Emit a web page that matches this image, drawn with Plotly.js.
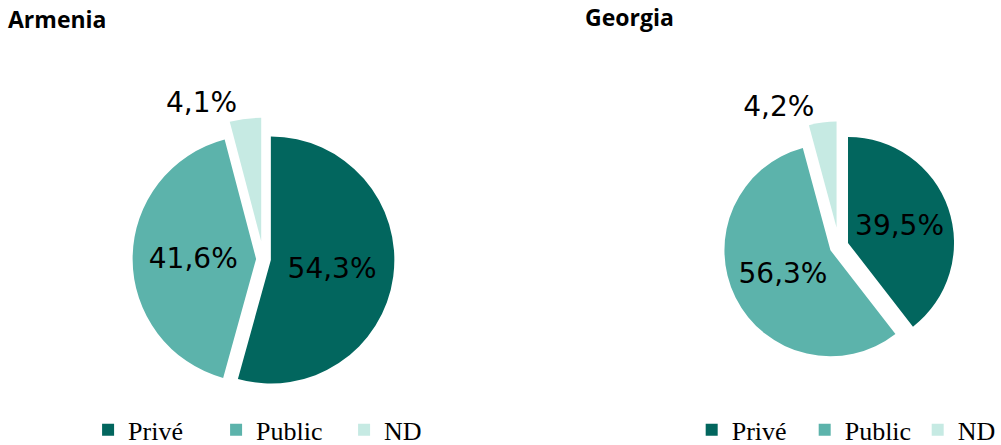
<!DOCTYPE html>
<html>
<head>
<meta charset="utf-8">
<script src="https://cdn.plot.ly/plotly-3.0.1.min.js"></script>
<style>html,body{margin:0;padding:0;background:#fff;}#chart{width:1001px;height:445px;}</style>
</head>
<body>
<div id="chart"></div>
<script>
const categories = ["Privé", "Public", "ND"];
const armeniaValues = [54.3, 41.6, 4.1];
const georgiaValues = [39.5, 56.3, 4.2];
const countryTitles = ["Armenia", "Georgia"];
const colors = ["#02665E", "#5CB3AB", "#C6EAE3"];

const labelFont = {family: "DejaVu Sans, Verdana, sans-serif", size: 28, color: "#000"};

function pieTrace(values, domain, pull, legendId, group) {
  return {
    type: "pie",
    labels: categories,
    values: values,
    sort: false,
    direction: "clockwise",
    rotation: 0,
    pull: pull,
    domain: domain,
    marker: {colors: colors, line: {width: 0}},
    texttemplate: "%{value:.1f}%",
    textposition: ["inside", "inside", "outside"],
    insidetextorientation: "horizontal",
    textfont: labelFont,
    insidetextfont: labelFont,
    outsidetextfont: labelFont,
    hoverinfo: "label+value",
    legend: legendId,
    legendgroup: group,
    showlegend: true
  };
}

const data = [
  pieTrace(armeniaValues, {x: [0.122, 0.4045], y: [0.1002, 0.7357]}, [0.06, 0.06, 0.145], "legend", "am"),
  pieTrace(georgiaValues, {x: [0.7137, 0.9626], y: [0.1673, 0.7271]}, [0.09, 0.09, 0.175], "legend2", "ge")
];

const legendFont = {family: "Liberation Serif, Times New Roman, serif", size: 26, color: "#000"};

const layout = {
  width: 1001,
  height: 445,
  margin: {l: 0, r: 0, t: 0, b: 0, autoexpand: false},
  paper_bgcolor: "#fff",
  separators: ", ",
  showlegend: true,
  legend: {orientation: "h", x: 0.088, y: 0.034, xanchor: "left", yanchor: "middle", font: legendFont, entrywidth: 83, entrywidthmode: "pixels", traceorder: "normal", bgcolor: "rgba(0,0,0,0)"},
  legend2: {orientation: "h", x: 0.691, y: 0.034, xanchor: "left", yanchor: "middle", font: legendFont, entrywidth: 68, entrywidthmode: "pixels", traceorder: "normal", bgcolor: "rgba(0,0,0,0)"},
  annotations: [
    {text: "<b>" + countryTitles[0] + "</b>", xref: "paper", yref: "paper", x: 0.007, y: 1 - 2/445, xanchor: "left", yanchor: "top", borderpad: 0, showarrow: false, font: {family: "Open Sans, sans-serif", size: 23, color: "#000"}},
    {text: "<b>" + countryTitles[1] + "</b>", xref: "paper", yref: "paper", x: 584/1001, y: 1, xanchor: "left", yanchor: "top", borderpad: 0, showarrow: false, font: {family: "Open Sans, sans-serif", size: 23, color: "#000"}}
  ]
};

Plotly.newPlot("chart", data, layout, {displayModeBar: false, staticPlot: true});
</script>
</body>
</html>
